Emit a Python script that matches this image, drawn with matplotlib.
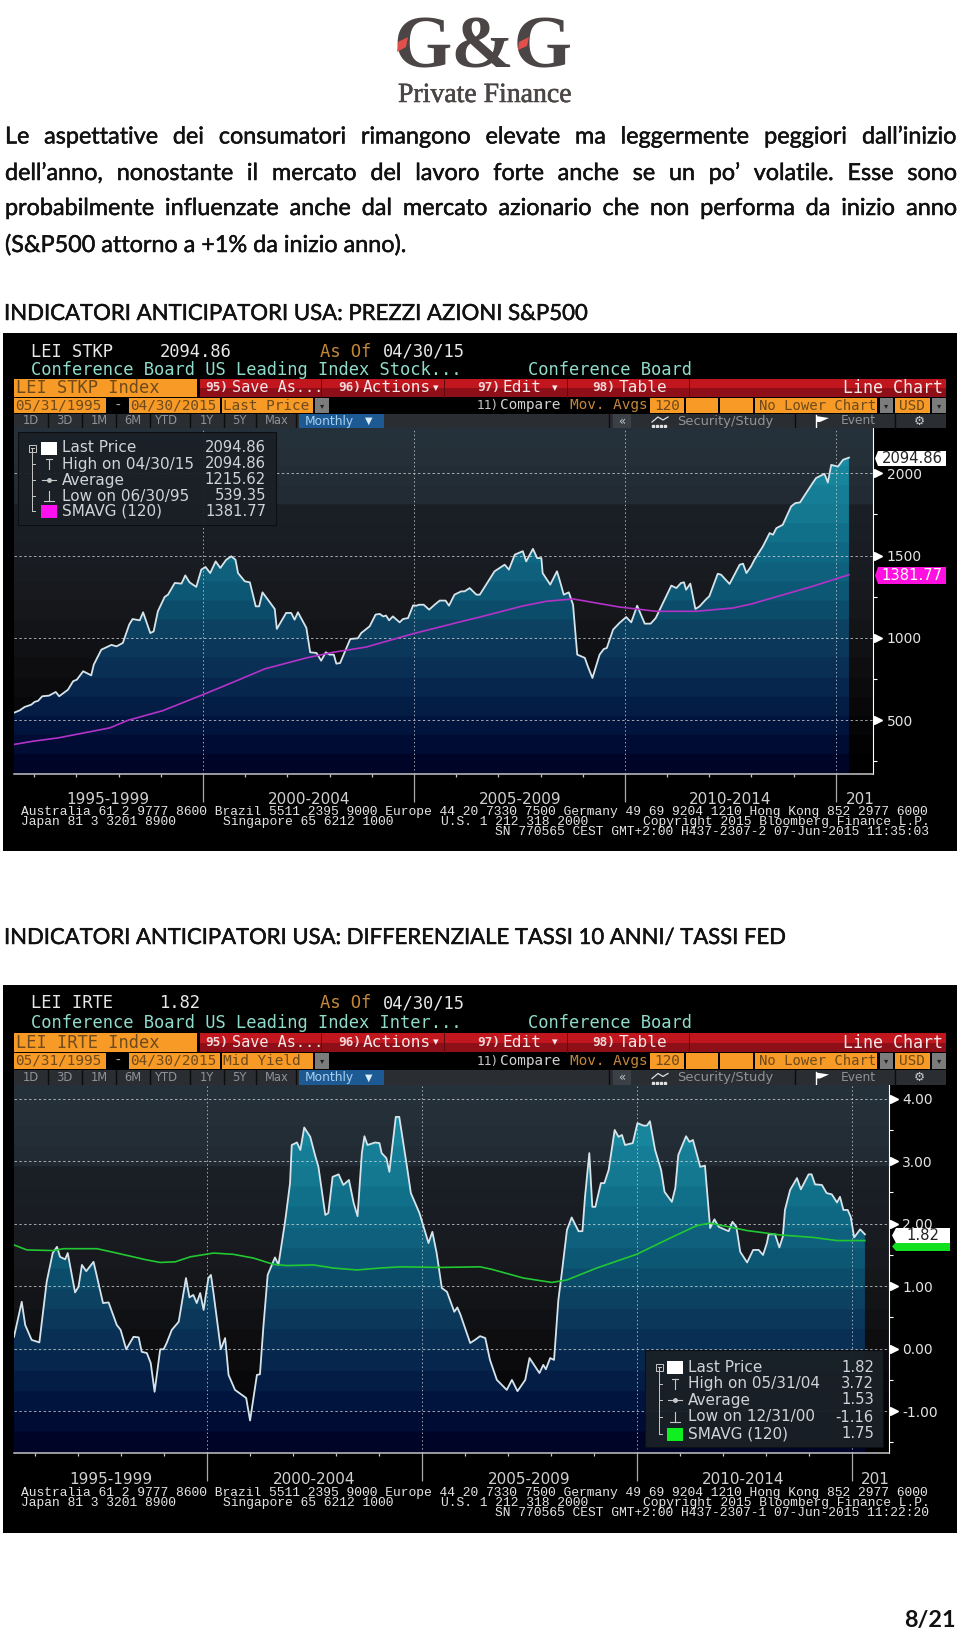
#!/usr/bin/env python3
import matplotlib

matplotlib.use("Agg")
import matplotlib.patheffects as pe
import matplotlib.pyplot as plt
import numpy as np
from matplotlib.colors import LinearSegmentedColormap
from matplotlib.patches import Polygon, Rectangle

W, H = 960, 1630

# S&P500 chart (LEI STKP)
stk_years = [
    1995.51, 1995.66, 1995.77, 1995.93, 1996.01, 1996.09, 1996.19, 1996.35, 1996.51, 1996.59,
    1996.80, 1996.92, 1997.01, 1997.16, 1997.35, 1997.41, 1997.59, 1997.83, 1997.95, 1998.10,
    1998.25, 1998.33, 1998.50, 1998.58, 1998.75, 1998.83, 1998.93, 1999.09, 1999.17, 1999.33,
    1999.49, 1999.58, 1999.68, 1999.84, 1999.96, 2000.06, 2000.17, 2000.30, 2000.41, 2000.55,
    2000.67, 2000.77, 2000.83, 2000.99, 2001.11, 2001.25, 2001.33, 2001.41, 2001.70, 2001.75,
    2001.97, 2002.09, 2002.17, 2002.25, 2002.45, 2002.54, 2002.69, 2002.80, 2002.91, 2003.00,
    2003.10, 2003.16, 2003.25, 2003.49, 2003.67, 2003.75, 2003.95, 2004.09, 2004.19, 2004.27,
    2004.34, 2004.41, 2004.50, 2004.66, 2004.74, 2004.86, 2004.98, 2005.06, 2005.12, 2005.23,
    2005.36, 2005.49, 2005.61, 2005.75, 2005.83, 2005.96, 2006.12, 2006.20, 2006.32, 2006.48,
    2006.56, 2006.71, 2006.91, 2007.03, 2007.15, 2007.25, 2007.39, 2007.58, 2007.66, 2007.82,
    2007.92, 2008.02, 2008.05, 2008.23, 2008.39, 2008.45, 2008.55, 2008.67, 2008.77, 2008.87, 2009.05,
    2009.12, 2009.23, 2009.40, 2009.50, 2009.57, 2009.72, 2009.87, 2010.03, 2010.15, 2010.29,
    2010.47, 2010.61, 2010.73, 2011.10, 2011.22, 2011.33, 2011.40, 2011.45, 2011.55, 2011.67,
    2011.77, 2011.93, 2012.00, 2012.20, 2012.28, 2012.48, 2012.72, 2012.80, 2012.88, 2012.99,
    2013.07, 2013.27, 2013.43, 2013.51, 2013.59, 2013.74, 2013.94, 2014.04, 2014.15, 2014.45,
    2014.53, 2014.73, 2014.81, 2014.89, 2015.05, 2015.17, 2015.31,
]
stk_values = [
    545, 561, 581, 595, 612, 618, 646, 650, 672, 646,
    686, 737, 747, 798, 773, 838, 929, 958, 949, 970,
    1081, 1115, 1107, 1156, 1030, 1040, 1162, 1249, 1263, 1334,
    1330, 1380, 1338, 1310, 1415, 1431, 1394, 1465, 1425, 1475,
    1496, 1475, 1394, 1344, 1338, 1192, 1192, 1277, 1176, 1055,
    1152, 1152, 1111, 1156, 1061, 913, 909, 862, 913, 899,
    899, 844, 848, 994, 998, 1030, 1071, 1142, 1146, 1131,
    1136, 1107, 1131, 1095, 1115, 1121, 1198, 1196, 1202, 1202,
    1172, 1202, 1227, 1227, 1196, 1263, 1283, 1283, 1303, 1263,
    1263, 1324, 1405, 1425, 1445, 1415, 1506, 1527, 1465, 1541,
    1485, 1485, 1394, 1324, 1405, 1354, 1263, 1277, 1202, 899, 879,
    828, 757, 899, 933, 939, 1051, 1091, 1127, 1095, 1196,
    1087, 1087, 1121, 1318, 1303, 1334, 1338, 1293, 1330, 1176,
    1192, 1237, 1253, 1390, 1384, 1328, 1445, 1451, 1394, 1435,
    1475, 1556, 1637, 1627, 1667, 1687, 1799, 1819, 1823, 1941,
    1971, 1997, 1944, 2051, 2041, 2082, 2095,
]
stk_ma_years = [
    1995.51, 1995.97, 1996.56, 1997.31, 1997.79, 1998.22, 1999.05, 2000.00, 2000.71, 2001.46,
    2002.45, 2003.08, 2003.87, 2004.98, 2006.08, 2006.56, 2007.03, 2007.54, 2008.14, 2008.77,
    2009.87, 2010.74, 2011.69, 2012.56, 2012.99, 2014.45, 2015.31,
]
stk_ma_values = [
    353, 373, 393, 430, 454, 500, 559, 656, 731, 812,
    879, 913, 945, 1026, 1097, 1127, 1158, 1192, 1223, 1237,
    1188, 1162, 1162, 1182, 1206, 1314, 1384,
]
stk_ticks = [500, 1000, 1500, 2000]
stk_minor = [250, 750, 1250, 1750]
stk_tick_labels = ["500", "1000", "1500", "2000"]
stk_legend = [
    ("Last Price", "2094.86"),
    ("High on 04/30/15", "2094.86"),
    ("Average", "1215.62"),
    ("Low on 06/30/95", "539.35"),
    ("SMAVG (120)", "1381.77"),
]

# 10y - fed funds spread chart (LEI IRTE)
irt_years = [
    1995.50, 1995.68, 1995.76, 1995.91, 1996.09, 1996.26, 1996.40, 1996.50, 1996.57, 1996.69,
    1996.75, 1996.92, 1997.00, 1997.08, 1997.18, 1997.35, 1997.57, 1997.70, 1997.89, 1997.98,
    1998.11, 1998.28, 1998.40, 1998.47, 1998.59, 1998.68, 1998.77, 1998.90, 1998.98, 1999.05,
    1999.17, 1999.33, 1999.50, 1999.58, 1999.67, 1999.75, 1999.83, 1999.91, 2000.02, 2000.08,
    2000.14, 2000.31, 2000.41, 2000.49, 2000.64, 2000.90, 2000.99, 2001.15, 2001.22, 2001.30,
    2001.40, 2001.57, 2001.65, 2001.81, 2001.92, 2001.96, 2002.08, 2002.16, 2002.25, 2002.39,
    2002.50, 2002.58, 2002.74, 2002.81, 2002.91, 2003.05, 2003.16, 2003.29, 2003.40, 2003.49,
    2003.59, 2003.65, 2003.72, 2003.90, 2004.00, 2004.05, 2004.16, 2004.23, 2004.38, 2004.46,
    2004.64, 2004.73, 2004.83, 2004.93, 2005.14, 2005.23, 2005.33, 2005.45, 2005.57, 2005.74,
    2005.81, 2005.88, 2006.11, 2006.22, 2006.34, 2006.46, 2006.57, 2006.73, 2006.96, 2007.08,
    2007.21, 2007.39, 2007.49, 2007.72, 2007.81, 2007.87, 2007.97, 2008.06, 2008.16, 2008.24,
    2008.36, 2008.47, 2008.63, 2008.72, 2008.78, 2008.88, 2008.95, 2009.02, 2009.15, 2009.23,
    2009.33, 2009.47, 2009.56, 2009.64, 2009.71, 2009.89, 2010.00, 2010.14, 2010.22, 2010.29,
    2010.41, 2010.55, 2010.63, 2010.80, 2010.88, 2010.95, 2011.13, 2011.21, 2011.29, 2011.46,
    2011.57, 2011.69, 2011.79, 2011.89, 2012.12, 2012.21, 2012.30, 2012.39, 2012.55, 2012.69,
    2012.82, 2012.92, 2013.01, 2013.05, 2013.20, 2013.30, 2013.38, 2013.43, 2013.55, 2013.71,
    2013.80, 2013.98, 2014.05, 2014.13, 2014.29, 2014.40, 2014.52, 2014.64, 2014.71, 2014.79,
    2014.89, 2014.96, 2015.04, 2015.18, 2015.29,
]
irt_values = [
    0.19, 0.75, 0.38, 0.14, 0.10, 1.07, 1.53, 1.63, 1.47, 1.43,
    1.53, 0.90, 0.99, 1.34, 1.24, 1.39, 0.73, 0.74, 0.38, 0.30,
    -0.01, 0.19, 0.18, -0.05, -0.07, -0.23, -0.69, -0.01, -0.01, 0.09,
    0.30, 0.43, 1.13, 0.82, 0.86, 0.73, 0.89, 0.62, 1.13, 1.18,
    0.89, -0.01, 0.17, -0.42, -0.66, -0.79, -1.15, -0.42, -0.41, 0.35,
    1.18, 1.46, 1.34, 2.06, 2.65, 3.26, 3.30, 3.18, 3.54, 3.39,
    3.10, 2.91, 2.14, 2.17, 2.75, 2.79, 2.62, 2.70, 2.33, 2.12,
    3.13, 3.40, 3.26, 3.30, 3.29, 3.13, 3.05, 2.83, 3.71, 3.71,
    2.91, 2.49, 2.33, 2.17, 1.69, 1.87, 1.53, 0.97, 0.91, 0.59,
    0.66, 0.55, 0.09, 0.14, 0.20, 0.17, -0.18, -0.50, -0.66, -0.50,
    -0.68, -0.50, -0.15, -0.39, -0.26, -0.33, -0.15, -0.18, 0.78, 1.21,
    1.90, 2.10, 1.88, 1.88, 2.43, 3.13, 2.27, 2.27, 2.65, 2.65,
    2.86, 3.50, 3.39, 3.42, 3.26, 3.29, 3.61, 3.57, 3.57, 3.64,
    3.18, 2.86, 2.51, 2.35, 2.57, 3.10, 3.40, 3.31, 3.34, 2.91,
    2.93, 1.93, 2.07, 1.95, 1.88, 2.03, 1.95, 1.55, 1.38, 1.58,
    1.58, 1.50, 1.69, 1.83, 1.83, 1.62, 1.79, 2.22, 2.54, 2.73,
    2.55, 2.79, 2.79, 2.63, 2.62, 2.49, 2.47, 2.34, 2.43, 2.22,
    2.22, 2.11, 1.78, 1.91, 1.83,
]
irt_ma_years = [
    1995.50, 1995.80, 1996.42, 1996.65, 1997.43, 1997.89, 1998.59, 1998.90, 1999.25, 1999.60,
    2000.14, 2000.60, 2001.07, 2001.53, 2001.84, 2002.47, 2002.93, 2003.47, 2004.02, 2004.48,
    2005.41, 2006.34, 2006.61, 2007.35, 2008.01, 2008.36, 2009.05, 2009.98, 2010.76, 2011.38,
    2011.69, 2012.55, 2013.32, 2014.09, 2014.64, 2015.29,
]
irt_ma_values = [
    1.66, 1.58, 1.57, 1.60, 1.60, 1.53, 1.42, 1.38, 1.39, 1.47,
    1.53, 1.51, 1.45, 1.35, 1.33, 1.34, 1.29, 1.26, 1.29, 1.31,
    1.30, 1.31, 1.27, 1.13, 1.06, 1.10, 1.29, 1.51, 1.77, 1.97,
    2.01, 1.89, 1.82, 1.78, 1.73, 1.73,
]
irt_ticks = [-1, 0, 1, 2, 3, 4]
irt_minor = [-1.5, -0.5, 0.5, 1.5, 2.5, 3.5]
irt_tick_labels = ["-1.00", "0.00", "1.00", "2.00", "3.00", "4.00"]
irt_legend = [
    ("Last Price", "1.82"),
    ("High on 05/31/04", "3.72"),
    ("Average", "1.53"),
    ("Low on 12/31/00", "-1.16"),
    ("SMAVG (120)", "1.75"),
]

body_lines = [
    "Le aspettative dei consumatori rimangono elevate ma leggermente peggiori dall’inizio",
    "dell’anno, nonostante il mercato del lavoro forte anche se un po’ volatile. Esse sono",
    "probabilmente influenzate anche dal mercato azionario che non performa da inizio anno",
]
body_last = "(S&P500 attorno a +1% da inizio anno)."
heading_1 = "INDICATORI ANTICIPATORI USA: PREZZI AZIONI S&P500"
heading_2 = "INDICATORI ANTICIPATORI USA: DIFFERENZIALE TASSI 10 ANNI/ TASSI FED"
period_labels = ["1995-1999", "2000-2004", "2005-2009", "2010-2014", "201"]

MONO = "DejaVu Sans Mono"
FINE = "Liberation Mono"
SANS = "DejaVu Sans"
ORANGE = "#f79a26"
ORANGE_TXT = "#6e4a1c"
BRONZE = "#c4873a"
MINT = "#8fdcca"
FAT = [pe.withStroke(linewidth=0.35, foreground="#111111")]

bg_cmap = LinearSegmentedColormap.from_list(
    "bg",
    [(0, "#25313a"), (0.2, "#222b33"), (0.21, "#1b2027"), (0.5, "#17191d"), (0.8, "#0a0a0c"), (1, "#000000")],
    N=18,
)
fill_cmap = LinearSegmentedColormap.from_list(
    "fill",
    [(0, "#1c92a8"), (0.25, "#13778f"), (0.45, "#0d5b78"), (0.62, "#0c3c5e"), (0.78, "#07244c"), (0.92, "#000f38"), (1, "#000528")],
    N=18,
)

fig = plt.figure(figsize=(W / 100, H / 100), dpi=100, facecolor="white")
renderer = fig.canvas.get_renderer()


def page_axes(zorder):
    ax = fig.add_axes([0, 0, 1, 1], zorder=zorder)
    ax.set_xlim(0, W)
    ax.set_ylim(H, 0)
    ax.axis("off")
    return ax


back = page_axes(0)
front = page_axes(5)


def txt(ax, x, y, s, color="white", size=10, family=MONO, ha="left", va="center", **kw):
    return ax.text(x, y, s, color=color, fontsize=size, family=family, ha=ha, va=va, **kw)


def box(ax, x0, y0, x1, y1, color, **kw):
    ax.add_patch(Rectangle((x0, y0), x1 - x0, y1 - y0, facecolor=color, edgecolor="none", **kw))


def text_width(s, size, family, weight="normal"):
    t = fig.text(0, 0, s, fontsize=size, family=family, weight=weight)
    w = t.get_window_extent(renderer).width
    t.remove()
    return w


def justified(y, line, x0, x1, size, family):
    words = line.split()
    widths = [text_width(w, size, family) for w in words]
    gap = (x1 - x0 - sum(widths)) / (len(words) - 1)
    x = x0
    for word, width in zip(words, widths):
        back.text(x, y, word, fontsize=size, family=family, color="#111111", va="baseline", path_effects=FAT)
        x += width + gap


def draw_toolbar(ax, row_a, row_b, row_c, title_y, sub_y, ticker, name, price, index_label, field):
    txt(ax, 31, title_y, ticker, "#e8e8e8", 12.3)
    txt(ax, 160, title_y, price, "#e8e8e8", 12.3)
    txt(ax, 320, title_y, "As Of", BRONZE, 12.3)
    txt(ax, 383, title_y, "04/30/15", "#e8e8e8", 12.3)
    txt(ax, 31, sub_y, name, MINT, 12.3)
    txt(ax, 528, sub_y, "Conference Board", MINT, 12.3)

    # red/orange row
    mid_a = (row_a[0] + row_a[1]) / 2
    box(ax, 14, row_a[0], 197, row_a[1], ORANGE)
    txt(ax, 16, mid_a, index_label, ORANGE_TXT, 12.3)
    box(ax, 200, row_a[0], 946, row_a[1], "#8f0f18")
    box(ax, 200, row_a[0], 946, mid_a, "#c2161f")
    for x in [321, 444, 567, 689]:
        ax.plot([x, x], row_a, color="#5a0a10", lw=0.7)
    txt(ax, 205, mid_a, "95)", "#f0d8d8", 9.2, weight="bold")
    txt(ax, 232, mid_a, "Save As...", "#f4e8e8", 11)
    txt(ax, 338, mid_a, "96)", "#f0d8d8", 9.2, weight="bold")
    txt(ax, 363, mid_a, "Actions", "#f4e8e8", 11.6)
    txt(ax, 433, mid_a, "▾", "#f4e8e8", 8, family=SANS)
    txt(ax, 477, mid_a, "97)", "#f0d8d8", 9.2, weight="bold")
    txt(ax, 503, mid_a, "Edit", "#f4e8e8", 11.6)
    txt(ax, 552, mid_a, "▾", "#f4e8e8", 8, family=SANS)
    txt(ax, 592, mid_a, "98)", "#f0d8d8", 9.2, weight="bold")
    txt(ax, 619, mid_a, "Table", "#f4e8e8", 11.6)
    txt(ax, 843, mid_a, "Line Chart", "#f4e8e8", 12)

    # date row
    mid_b = (row_b[0] + row_b[1]) / 2
    for x0, x1, s in [
        (14, 106, "05/31/1995"),
        (129, 220, "04/30/2015"),
        (222, 313, field),
        (650, 684, "120"),
        (686, 718, ""),
        (720, 753, ""),
        (755, 877, "No Lower Chart"),
        (895, 930, "USD"),
    ]:
        box(ax, x0, row_b[0], x1, row_b[1], ORANGE)
        txt(ax, x0 + 1 + (3 if x0 > 600 else 0), mid_b, s, ORANGE_TXT, 10 if x0 == 755 else 10.4)
    txt(ax, 114, mid_b, "-", "#aaaaaa", 10.4)
    for x0, x1 in [(315, 329), (880, 893), (932, 946)]:
        box(ax, x0, row_b[0], x1, row_b[1], "#7c7c7c")
        txt(ax, (x0 + x1) / 2, mid_b, "▾", "#222222", 6, family=SANS, ha="center")
    txt(ax, 477, mid_b, "11)", "#c8c8c8", 9, family=SANS)
    txt(ax, 500, mid_b, "Compare", "#d0d0d0", 10.4)
    txt(ax, 570, mid_b, "Mov. Avgs", BRONZE, 10.4)

    # button row
    mid_c = (row_c[0] + row_c[1]) / 2
    box(ax, 14, row_c[0], 946, row_c[1], "#2a2d31")
    for x, s in [(31, "1D"), (64, "3D"), (99, "1M"), (133, "6M"), (166, "YTD"), (207, "1Y"), (239, "5Y"), (277, "Max")]:
        txt(ax, x, mid_c, s, "#8f9398", 8.3, family=SANS, ha="center")
    for x in [48, 82, 116, 150, 190, 224, 256, 296, 609, 795, 895]:
        ax.plot([x, x], [row_c[0], row_c[1]], color="#0c0c0c", lw=1)
    box(ax, 299, row_c[0], 384, row_c[1], "#1d5a94")
    txt(ax, 305, mid_c, "Monthly", "#a8d0f0", 8.8, family=SANS)
    txt(ax, 365, mid_c, "▼", "#d8ecfa", 7, family=SANS)
    box(ax, 613, row_c[0], 631, row_c[1], "#3a4046")
    txt(ax, 622, mid_c, "«", "#c8c8c8", 8.5, family=SANS, ha="center")
    ax.plot([652, 658, 663, 668], [mid_c + 1, mid_c - 4, mid_c - 1, mid_c - 4], color="#e0e0e0", lw=0.9)
    ax.plot([653, 657, 661, 665], [mid_c + 5] * 4, ls="none", marker="s", ms=1.5, color="#e0e0e0")
    txt(ax, 677, mid_c, "Security/Study", "#8f9398", 9.4, family=SANS)
    ax.add_patch(Polygon([(816, mid_c - 5), (829, mid_c - 3), (820, mid_c + 1), (816, mid_c + 1)], facecolor="white"))
    ax.plot([816, 816], [mid_c - 6, mid_c + 6], color="white", lw=1)
    txt(ax, 841, mid_c, "Event", "#8f9398", 8.8, family=SANS)
    txt(ax, 919, mid_c, "⚙", "#c8c8c8", 9, family=SANS, ha="center")


def draw_legend(ax, x0, y0, x1, y1, rows, ys, tree_x, sw_x, text_x, value_x, ma_color):
    ax.add_patch(Rectangle((x0, y0), x1 - x0, y1 - y0, facecolor="#1a2026", edgecolor="#0c0f12", lw=0.8, alpha=0.95))
    ax.plot([tree_x, tree_x], [ys[0], ys[-1]], color="#c8c8c8", lw=0.7)
    box(ax, tree_x - 3.5, ys[0] - 3.5, tree_x + 3.5, ys[0] + 3.5, "#1b2127")
    ax.add_patch(Rectangle((tree_x - 3.5, ys[0] - 3.5), 7, 7, facecolor="none", edgecolor="#c8c8c8", lw=0.7))
    ax.plot([tree_x - 1.5, tree_x + 1.5], [ys[0], ys[0]], color="#c8c8c8", lw=0.7)
    for y in ys[1:]:
        ax.plot([tree_x, tree_x + 3], [y, y], color="#c8c8c8", lw=0.7)
    sw_mid = sw_x + 8
    box(ax, sw_x, ys[0] - 6.5, sw_x + 16, ys[0] + 6.5, "white")
    box(ax, sw_x, ys[4] - 6.5, sw_x + 16, ys[4] + 6.5, ma_color)
    ax.plot([sw_mid - 3, sw_mid + 3], [ys[1] - 5, ys[1] - 5], color="#c8c8c8", lw=0.8)
    ax.plot([sw_mid, sw_mid], [ys[1] - 5, ys[1] + 5], color="#c8c8c8", lw=0.8)
    ax.plot([sw_mid - 7, sw_mid + 7], [ys[2], ys[2]], color="#c8c8c8", lw=0.8)
    ax.plot([sw_mid], [ys[2]], marker="o", ms=2.5, color="#c8c8c8")
    ax.plot([sw_mid - 5, sw_mid + 5], [ys[3] + 5, ys[3] + 5], color="#c8c8c8", lw=0.8)
    ax.plot([sw_mid, sw_mid], [ys[3] - 5, ys[3] + 5], color="#c8c8c8", lw=0.8)
    for y, (label, value) in zip(ys, rows):
        txt(ax, text_x, y, label, "#d0d4d8", 11, family=SANS)
        txt(ax, value_x, y, value, "#d0d4d8", 10.6, family=SANS, ha="right")


def draw_tag(ax, y0, y1, label, face, color, x0=878, x1=946, tip=875, size=10.6):
    mid = (y0 + y1) / 2
    ax.add_patch(Polygon([(tip, mid), (x0, y0), (x1, y0), (x1, y1), (x0, y1)], facecolor=face, edgecolor="none"))
    txt(ax, (x0 + x1) / 2, mid, label, color, size, family=SANS, ha="center")


def draw_plot(rect, xlim, ylim, years, values, ma_years, ma_values, ma_color, ticks, minor, labels, pad):
    x0, y0, x1, y1 = rect
    ax = fig.add_axes([x0 / W, 1 - y1 / H, (x1 - x0) / W, (y1 - y0) / H], zorder=2)
    grad = np.linspace(0, 1, 256).reshape(-1, 1)
    extent = [xlim[0], xlim[1], ylim[0], ylim[1]]
    ax.imshow(grad, cmap=bg_cmap, aspect="auto", extent=extent, origin="upper", zorder=0)
    image = ax.imshow(grad, cmap=fill_cmap, aspect="auto", extent=extent, origin="upper", zorder=1)
    poly = ax.fill(
        [years[0]] + years + [years[-1]],
        [ylim[0]] + values + [ylim[0]],
        facecolor="none",
        edgecolor="none",
    )[0]
    image.set_clip_path(poly)
    ax.set_xlim(*xlim)
    ax.set_ylim(*ylim)

    for t in ticks:
        ax.axhline(t, color="#d8d8d8", lw=0.7, ls=(0, (2.5, 2.5)), alpha=0.75, zorder=3)
    for t in [2000, 2005, 2010, 2015]:
        ax.axvline(t, color="#d8d8d8", lw=0.7, ls=(0, (1.5, 2.5)), alpha=0.75, zorder=3)

    ax.plot(years, values, color="#d6e4ea", lw=1.3, zorder=4)
    ax.plot(ma_years, ma_values, color=ma_color, lw=1.2, zorder=5)

    for side in ["top", "left"]:
        ax.spines[side].set_visible(False)
    ax.spines["right"].set_color("white")
    ax.spines["bottom"].set_color("#c4c4c8")
    ax.spines["bottom"].set_linewidth(1.1)

    ax.yaxis.tick_right()
    ax.set_yticks(ticks)
    ax.set_yticklabels(labels)
    ax.set_yticks(minor, minor=True)
    ax.tick_params(axis="y", which="major", length=0, pad=pad, labelcolor="#e4e4e4", labelsize=10)
    ax.tick_params(axis="y", which="minor", length=3, width=0.8, color="white")
    ax.plot([1.006] * len(ticks), ticks, transform=ax.get_yaxis_transform(), ls="none", marker=">", ms=5.5,
            color="white", clip_on=False, zorder=6)
    ax.set_xticks([2000, 2005, 2010, 2015])
    ax.set_xticks([y for y in range(1996, 2016) if y % 5], minor=True)
    ax.set_xticklabels([])
    ax.tick_params(axis="x", which="major", length=20, width=0.9, color="#a8a8a8")
    ax.tick_params(axis="x", which="minor", length=2, width=0.9, color="#c8c8c8")
    return ax


def draw_footer(ax, ys, serial):
    txt(ax, 21, ys[0], "Australia 61 2 9777 8600 Brazil 5511 2395 9000 Europe 44 20 7330 7500 Germany 49 69 9204 1210 Hong Kong 852 2977 6000", "#e4e4e4", 9.36, family=FINE)
    txt(ax, 21, ys[1], "Japan 81 3 3201 8900", "#e4e4e4", 9.36, family=FINE)
    txt(ax, 223, ys[1], "Singapore 65 6212 1000", "#e4e4e4", 9.36, family=FINE)
    txt(ax, 441, ys[1], "U.S. 1 212 318 2000", "#e4e4e4", 9.36, family=FINE)
    txt(ax, 643, ys[1], "Copyright 2015 Bloomberg Finance L.P.", "#e4e4e4", 9.36, family=FINE)
    txt(ax, 495, ys[2], serial, "#e4e4e4", 9.36, family=FINE)


# logo
back.text(393, 68, "G&G", fontsize=54, family="Liberation Serif", weight="bold", color="#4b4545", va="baseline")
back.text(398, 102, "Private Finance", fontsize=20, family="Liberation Serif", color="#4b4545", va="baseline",
          path_effects=[pe.withStroke(linewidth=0.4, foreground="#4b4545")])
front.add_patch(Polygon([(398, 42), (408, 37), (406, 47), (397, 52)], facecolor="#e2504c", edgecolor="none"))
front.add_patch(Polygon([(519, 42), (529, 37), (527, 46), (518, 50)], facecolor="#e2504c", edgecolor="none"))

# document text
body_size = 12.0 * 400 / text_width(body_last, 12.0, "Lato")
for y, line in zip([143.5, 180, 215], body_lines):
    justified(y, line, 5, 957, body_size, "Lato")
back.text(5, 252, body_last, fontsize=body_size, family="Lato", color="#111111", va="baseline", path_effects=FAT)
head1_size = 12.0 * 581 / text_width(heading_1, 12.0, "Lato")
head2_size = 12.0 * 778 / text_width(heading_2, 12.0, "Lato")
back.text(4, 320, heading_1, fontsize=head1_size, family="Lato", color="#111111", va="baseline", path_effects=FAT)
back.text(4, 944, heading_2, fontsize=head2_size, family="Lato", color="#111111", va="baseline", path_effects=FAT)
back.text(956, 1627, "8/21", fontsize=body_size, family="Lato", weight="bold", color="#111111", ha="right", va="baseline")

# first terminal screenshot
box(back, 3, 333, 957, 851, "black")
draw_toolbar(back, (379, 397), (398, 413), (414, 428), 352, 370, "LEI STKP",
             "Conference Board US Leading Index Stock...", "2094.86", "LEI STKP Index", "Last Price")
draw_plot((14, 428, 873, 774), (1995.52, 2015.88), (174, 2275), stk_years, stk_values, stk_ma_years, stk_ma_values,
          "#b432c8", stk_ticks, stk_minor, stk_tick_labels, 10)
draw_legend(front, 18, 432, 276, 525, stk_legend, [448, 464, 480, 496, 511], 32, 41, 62, 266, "#ff10f0")
draw_tag(front, 451, 466, "2094.86", "white", "#222222")
draw_tag(front, 567, 584, "1381.77", "#ff10e0", "white")
for x, label in zip([108, 309, 520, 730, 860], period_labels):
    txt(front, x, 800, label, "#d0d0d0", 11, family=SANS, ha="center")
draw_footer(front, [811.7, 821.7, 831.7], "SN 770565 CEST GMT+2:00 H437-2307-2 07-Jun-2015 11:35:03")

# second terminal screenshot
box(back, 3, 985, 957, 1533, "black")
draw_toolbar(back, (1033, 1052), (1053, 1069), (1070, 1085), 1003, 1023, "LEI IRTE",
             "Conference Board US Leading Index Inter...", "1.82", "LEI IRTE Index", "Mid Yield")
draw_plot((14, 1085, 889, 1453), (1995.50, 2015.85), (-1.67, 4.22), irt_years, irt_values, irt_ma_years, irt_ma_values,
          "#22c832", irt_ticks, irt_minor, irt_tick_labels, 9.5)
draw_legend(front, 645, 1350, 883, 1447, irt_legend, [1367, 1383.5, 1400, 1417, 1434], 659, 667, 688, 874, "#10f020")
draw_tag(front, 1242, 1251, "", "#10e020", "white", x0=896, x1=950, tip=892)
draw_tag(front, 1228, 1243, "1.82", "white", "#222222", x0=896, x1=950, tip=892)
for x, label in zip([111, 314, 529, 743, 875], period_labels):
    txt(front, x, 1479, label, "#d0d0d0", 11, family=SANS, ha="center")
draw_footer(front, [1492.7, 1503, 1513], "SN 770565 CEST GMT+2:00 H437-2307-1 07-Jun-2015 11:22:20")

fig.savefig("out.png", dpi=100, facecolor="white")
plt.close(fig)
